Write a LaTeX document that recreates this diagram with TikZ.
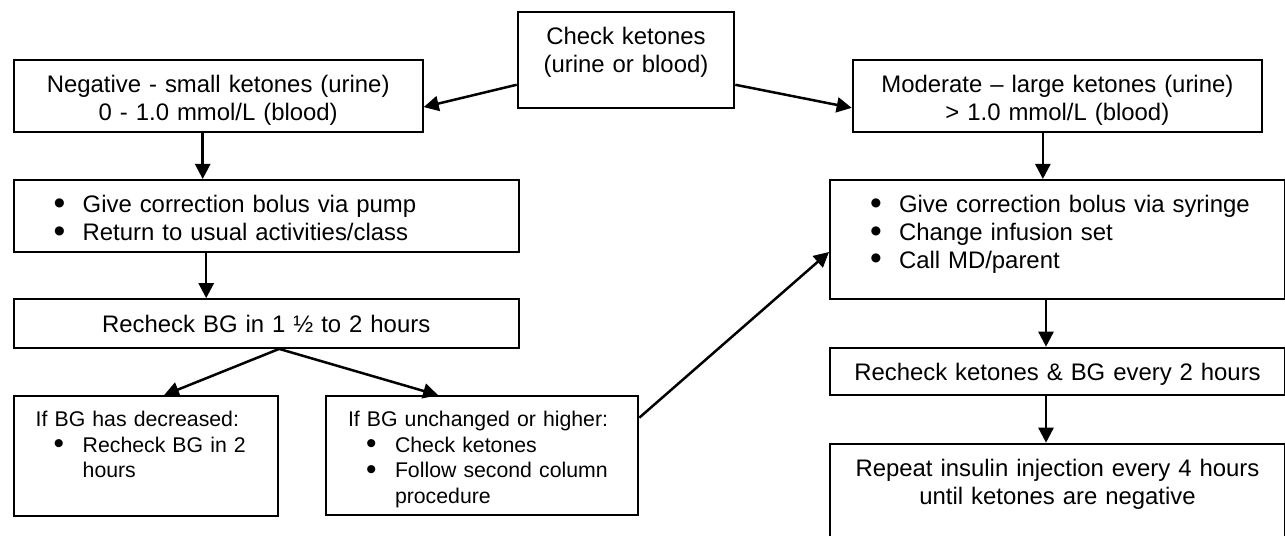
\documentclass[tikz,border=0pt]{standalone}
\usepackage{fontspec}
\setmainfont{Liberation Sans}
\usetikzlibrary{arrows.meta,positioning,calc}
\newcommand{\bitem}[1]{\hspace*{0.80cm}\makebox[0.58cm][l]{\raisebox{-0.06em}{\scalebox{1.4}{\textbullet}}}#1}
\tikzset{
  flowbox/.style 2 args={
    rectangle, draw=black, line width=0.04cm,
    anchor=north west, inner sep=0pt,
    text width=#1, minimum width=#1,
    text height=0.66cm, text depth=#2,
    font=\fontsize{13.6}{15.8}\selectfont, align=center
  },
  listbox/.style 2 args={flowbox={#1}{#2}, align=left},
  subbox/.style 2 args={flowbox={#1}{#2}, align=left,
    text height=0.60cm, font=\fontsize{12.1}{14.7}\selectfont},
  flowarrow/.style={
    -{Triangle[length=0.3cm, width=0.3cm]}, line width=0.05cm
  },
}

\begin{document}
\begin{tikzpicture}
\useasboundingbox (0,0) rectangle (25.7,-10.72);
% Top
\node[flowbox={4.332cm}{1.254cm}] (chk) at (10.334,-0.22) {Check ketones\\(urine or blood)};

% Left column
\node[flowbox={8.18cm}{0.78cm}] (neg) at (0.254,-1.18) {Negative - small ketones (urine)\\0 - 1.0 mmol/L (blood)};
\node[listbox={10.10cm}{0.774cm}, below=0.92cm of neg.south west, anchor=north west] (pump)
  {\bitem{Give correction bolus via pump}\\\bitem{Return to usual activities/class}};
\node[flowbox={10.10cm}{0.314cm}, below=0.91cm of pump.south west, anchor=north west] (rbg) {Recheck BG in 1 ½ to 2 hours};
\node[subbox={5.292cm}{1.794cm}, below=0.926cm of rbg.south west, anchor=north west] (dec)
  {\hspace*{0.44cm}If BG has decreased:\\\bitem{Recheck BG in 2}\\\hspace*{1.38cm}hours};
\node[subbox={6.246cm}{1.78cm}, right=0.914cm of dec.north east, anchor=north west] (unch)
  {\hspace*{0.44cm}If BG unchanged or higher:\\\bitem{Check ketones}\\\bitem{Follow second column}\\\hspace*{1.38cm}procedure};

% Right column
\node[flowbox={8.186cm}{0.78cm}] (mod) at (17.034,-1.18) {Moderate – large ketones (urine)\\> 1.0 mmol/L (blood)};
\node[listbox={9.10cm}{1.726cm}] (syr) at (16.58,-3.58)
  {\bitem{Give correction bolus via syringe}\\\bitem{Change infusion set}\\\bitem{Call MD/parent}};
\node[flowbox={9.10cm}{0.292cm}, below=0.928cm of syr.south west, anchor=north west] (rk) {Recheck ketones \& BG every 2 hours};
\node[flowbox={9.10cm}{1.54cm}, below=0.928cm of rk.south west, anchor=north west] (rep)
  {Repeat insulin injection every 4 hours\\until ketones are negative};

% Connectors
\draw[flowarrow] ($(chk.north west)!0.755!(chk.south west)$) -- ($(neg.north east)!0.65!(neg.south east)$);
\draw[flowarrow] ($(chk.north east)!0.755!(chk.south east)$) -- ($(mod.north west)!0.66!(mod.south west)$);
\draw[flowarrow] ([xshift=-0.31cm]neg.south) -- ([xshift=-0.31cm]neg.south |- pump.north);
\draw[flowarrow] ([xshift=-1.2cm]pump.south) -- ([xshift=-1.2cm]pump.south |- rbg.north);
\draw[flowarrow] ([xshift=0.26cm]rbg.south) -- ([xshift=0.36cm]dec.north);
\draw[flowarrow] ([xshift=0.26cm]rbg.south) -- ([xshift=-0.88cm]unch.north);
\draw[flowarrow] ([yshift=-0.45cm]unch.north east) -- ([yshift=-1.46cm]syr.north west);
\draw[flowarrow] ([xshift=-0.29cm]mod.south) -- ([xshift=-0.29cm]mod.south |- syr.north);
\draw[flowarrow] ([xshift=-0.23cm]syr.south) -- ([xshift=-0.23cm]syr.south |- rk.north);
\draw[flowarrow] ([xshift=-0.23cm]rk.south) -- ([xshift=-0.23cm]rk.south |- rep.north);
\end{tikzpicture}
\end{document}
